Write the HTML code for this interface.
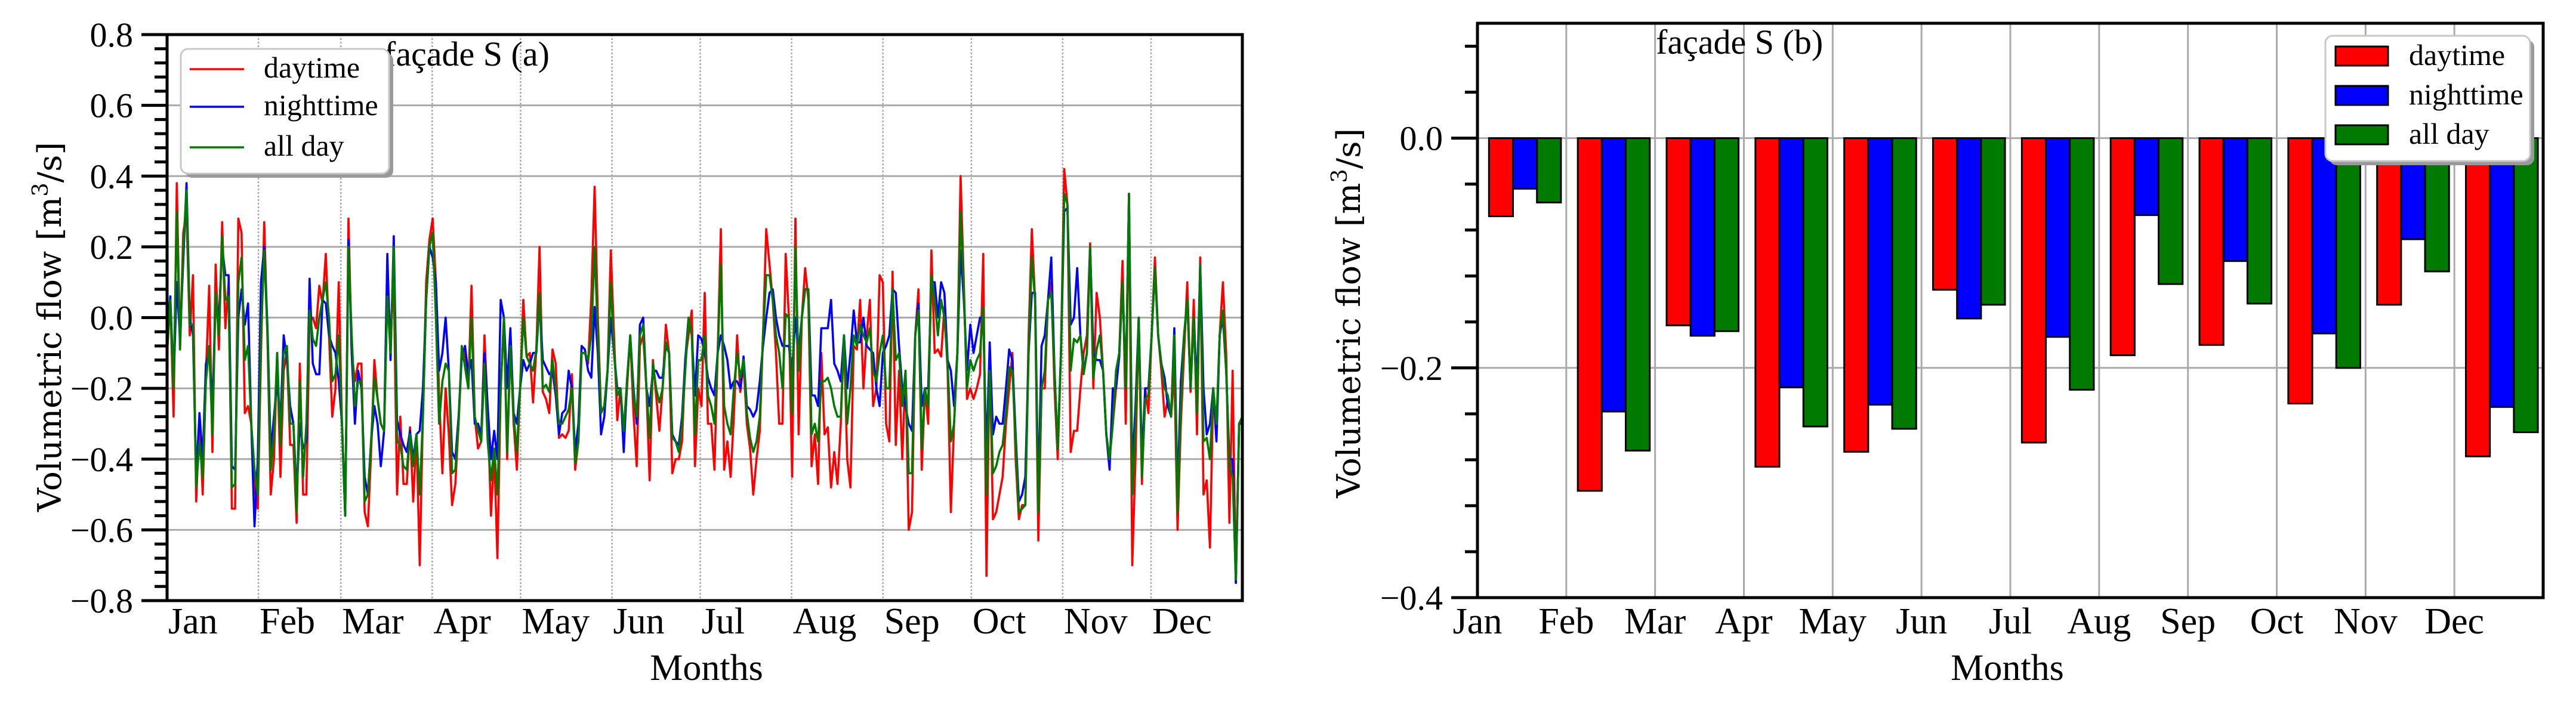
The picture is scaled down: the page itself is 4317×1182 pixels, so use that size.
<!DOCTYPE html>
<html><head><meta charset="utf-8"><style>
html,body{margin:0;padding:0;background:#fff;}
svg{display:block;font-family:"Liberation Serif",serif;}
</style></head><body>
<svg id="fig" width="4317" height="1182" viewBox="0 0 4317 1182" xmlns="http://www.w3.org/2000/svg">
<rect x="0" y="0" width="4317" height="1182" fill="#fff"/>
<g id="chartA"></g>
<g id="chartB"></g>
</svg>
<script>
// ---------- Chart A data (daily volumetric flow) ----------
const monthNames = ["Jan","Feb","Mar","Apr","May","Jun","Jul","Aug","Sep","Oct","Nov","Dec"];
const monthStartDays = [0,31,59,90,120,151,181,212,243,273,304,334];
const yTicksA = [0.8,0.6,0.4,0.2,0.0,-0.2,-0.4,-0.6,-0.8];
const dayDaytime = [
-0.1,0.05,-0.28,0.38,-0.09,0.24,0.3,-0.05,0.12,-0.52,-0.28,-0.5,-0.16,0.09,-0.38,0.15,-0.09,0.27,-0.03,0.1,-0.54,-0.54,0.28,0.24,-0.27,-0.25,-0.3,-0.48,-0.54,-0.1,0.27,-0.06,-0.5,-0.4,-0.1,-0.45,-0.15,-0.1,-0.36,-0.36,-0.58,-0.13,-0.5,-0.5,0.0,0.0,-0.03,0.09,0.04,0.18,-0.05,-0.28,-0.2,0.1,-0.3,-0.56,0.28,-0.1,-0.18,-0.13,-0.13,-0.55,-0.59,-0.38,-0.12,-0.23,-0.3,-0.32,0.1,-0.05,0.1,-0.5,-0.28,-0.47,-0.47,-0.31,-0.52,-0.33,-0.7,-0.27,0.1,0.22,0.28,0.1,-0.22,-0.44,-0.2,-0.33,-0.53,-0.47,-0.3,-0.1,-0.1,-0.2,0.09,-0.28,-0.37,-0.35,-0.05,-0.26,-0.56,-0.38,-0.68,-0.2,
0.0,-0.4,-0.08,-0.3,-0.43,-0.2,0.05,-0.11,-0.1,-0.24,-0.09,0.2,-0.21,-0.23,-0.27,-0.09,-0.13,-0.34,-0.33,-0.34,-0.32,-0.16,-0.43,-0.35,-0.1,-0.1,-0.13,0.06,0.37,0.0,-0.27,-0.25,-0.15,0.19,-0.05,-0.29,-0.2,-0.35,-0.2,-0.05,-0.27,-0.42,-0.08,-0.05,-0.2,-0.46,-0.12,-0.22,-0.32,-0.2,-0.02,-0.1,-0.44,-0.4,-0.4,-0.35,-0.12,-0.05,0.02,-0.42,-0.2,-0.25,0.07,-0.3,-0.3,-0.43,-0.1,0.25,-0.43,-0.35,-0.45,-0.28,-0.05,-0.21,-0.13,-0.3,-0.37,-0.5,-0.4,-0.32,-0.05,0.25,0.15,0.05,-0.1,-0.3,-0.3,0.18,0.0,-0.45,0.28,-0.33,0.0,0.14,0.05,-0.42,-0.33,-0.47,-0.1,-0.33,-0.31,-0.48,-0.38,-0.47,-0.3,-0.05,-0.4,-0.48,-0.08,-0.09,0.05,-0.2,
-0.05,0.05,-0.25,-0.2,0.12,0.1,-0.3,-0.35,0.13,-0.36,-0.15,-0.4,-0.15,-0.6,-0.55,-0.05,0.08,-0.43,-0.2,-0.3,0.19,-0.1,-0.09,-0.11,0.03,-0.15,-0.55,-0.3,-0.1,0.4,0.1,-0.23,-0.2,-0.23,-0.2,-0.16,0.18,-0.73,-0.1,-0.57,-0.55,-0.5,-0.45,-0.3,-0.2,-0.1,-0.4,-0.57,-0.53,-0.53,-0.05,0.25,0.05,-0.63,-0.2,-0.2,0.05,0.1,-0.2,-0.4,-0.1,0.42,0.32,-0.38,-0.32,-0.32,-0.2,-0.1,-0.05,0.21,-0.2,0.07,0.0,-0.15,-0.33,-0.4,-0.3,-0.2,-0.1,0.16,-0.3,0.35,-0.7,-0.4,0.0,-0.47,-0.2,-0.27,-0.05,0.17,-0.05,-0.15,-0.28,-0.23,-0.28,-0.15,-0.6,-0.3,-0.1,0.1,-0.21,0.05,-0.33,0.17,-0.5,-0.46,-0.65,-0.2,-0.33,-0.05,0.1,-0.1,-0.58,-0.15,-0.75,-0.3,-0.28];
const dayNighttime = [
-0.05,0.06,-0.18,0.1,-0.06,0.16,0.38,0.0,-0.05,-0.45,-0.27,-0.4,-0.13,-0.1,-0.25,0.05,0.0,0.2,0.12,0.12,-0.42,-0.43,0.0,0.08,-0.02,0.04,-0.3,-0.59,-0.4,0.1,0.2,-0.03,-0.38,-0.28,-0.18,-0.3,-0.05,-0.12,-0.25,-0.3,-0.5,-0.3,-0.37,-0.35,0.11,-0.13,-0.16,-0.16,0.05,0.04,-0.05,-0.08,-0.1,-0.18,-0.3,-0.56,0.22,-0.1,-0.3,-0.15,-0.2,-0.45,-0.5,-0.35,-0.25,-0.3,-0.42,-0.32,0.18,-0.12,0.23,-0.29,-0.33,-0.36,-0.38,-0.32,-0.4,-0.33,-0.32,-0.2,0.05,0.2,0.17,0.1,-0.15,-0.1,0.0,-0.15,-0.38,-0.4,-0.28,-0.11,-0.08,-0.16,-0.12,-0.3,-0.3,-0.33,-0.1,-0.25,-0.4,-0.32,-0.4,0.05,
0.0,-0.2,-0.03,-0.27,-0.3,-0.2,-0.12,-0.15,-0.13,-0.1,-0.1,0.05,-0.12,-0.14,-0.16,-0.15,-0.22,-0.33,-0.27,-0.26,-0.15,-0.2,-0.38,-0.3,-0.08,-0.09,-0.15,-0.17,0.03,-0.1,-0.33,-0.28,-0.15,0.0,-0.1,-0.2,-0.2,-0.38,-0.18,-0.05,-0.2,-0.3,-0.02,0.0,-0.2,-0.25,-0.15,-0.15,-0.17,-0.17,-0.08,-0.1,-0.33,-0.35,-0.36,-0.28,-0.12,0.0,-0.05,-0.22,-0.05,-0.06,-0.1,-0.17,-0.2,-0.22,-0.1,-0.05,-0.08,-0.12,-0.2,-0.18,-0.18,-0.2,-0.11,-0.25,-0.26,-0.28,-0.26,-0.18,-0.08,0.0,0.07,0.08,0.0,-0.05,-0.08,-0.08,-0.08,-0.15,0.0,-0.1,0.0,0.08,0.08,-0.22,-0.22,-0.25,-0.03,-0.03,-0.03,0.05,-0.13,-0.15,-0.18,-0.05,-0.2,-0.1,0.02,-0.07,-0.07,0.0,
-0.08,-0.09,-0.1,-0.2,-0.25,-0.1,-0.08,-0.05,0.08,0.07,-0.08,-0.2,-0.25,-0.3,-0.32,-0.05,0.04,-0.25,-0.2,-0.2,0.1,0.1,0.0,0.1,0.07,-0.12,-0.15,-0.25,-0.1,0.19,0.05,-0.15,-0.02,-0.1,-0.05,0.0,0.0,-0.4,-0.07,-0.33,-0.28,-0.3,-0.3,-0.2,-0.09,-0.12,-0.33,-0.52,-0.5,-0.45,-0.1,0.07,0.07,-0.5,-0.08,-0.05,0.05,0.17,-0.15,-0.37,-0.1,0.3,0.31,-0.02,0.0,0.14,-0.05,-0.15,-0.1,0.2,-0.1,-0.12,-0.12,-0.15,-0.33,-0.43,-0.2,-0.2,-0.11,0.1,-0.2,0.35,-0.43,-0.25,0.0,-0.4,-0.2,-0.2,-0.05,0.14,-0.05,-0.13,-0.17,-0.25,-0.28,-0.03,-0.5,-0.18,-0.05,0.05,-0.2,0.0,-0.2,0.15,-0.2,-0.33,-0.3,-0.2,-0.35,-0.05,0.0,-0.15,-0.4,-0.4,-0.75,-0.3,-0.3];
const dayAllDay = [
-0.1,0.05,-0.2,0.3,-0.09,0.2,0.36,-0.02,-0.02,-0.48,-0.35,-0.45,-0.18,-0.08,-0.33,0.07,-0.05,0.23,0.05,0.06,-0.48,-0.47,0.1,0.17,-0.12,-0.08,-0.3,-0.43,-0.5,-0.05,0.19,-0.05,-0.43,-0.33,-0.1,-0.36,-0.1,-0.08,-0.3,-0.3,-0.55,-0.18,-0.45,-0.3,0.02,-0.06,-0.08,0.0,0.05,0.1,0.0,-0.18,-0.16,-0.05,-0.3,-0.56,0.2,-0.05,-0.25,-0.18,-0.18,-0.52,-0.5,-0.35,-0.17,-0.23,-0.3,-0.32,0.06,-0.1,0.2,-0.35,-0.36,-0.42,-0.43,-0.33,-0.42,-0.33,-0.5,-0.28,0.05,0.2,0.24,0.0,-0.3,-0.18,-0.13,-0.15,-0.44,-0.43,-0.3,-0.08,-0.14,-0.2,0.0,-0.28,-0.32,-0.35,-0.13,-0.35,-0.46,-0.37,-0.5,-0.2,
0.0,-0.38,-0.08,-0.28,-0.38,-0.2,0.0,-0.11,-0.13,-0.15,-0.09,0.07,-0.2,-0.19,-0.21,-0.12,-0.2,-0.3,-0.3,-0.28,-0.26,-0.2,-0.41,-0.35,-0.1,-0.1,-0.12,-0.05,0.2,-0.05,-0.27,-0.25,-0.15,0.1,-0.1,-0.22,-0.2,-0.32,-0.18,-0.05,-0.22,-0.28,-0.05,-0.02,-0.2,-0.34,-0.13,-0.2,-0.24,-0.2,-0.07,-0.1,-0.34,-0.35,-0.38,-0.3,-0.15,0.0,-0.05,-0.33,-0.12,-0.12,-0.05,-0.22,-0.25,-0.3,-0.1,0.15,-0.25,-0.3,-0.33,-0.2,-0.1,-0.17,-0.12,-0.27,-0.34,-0.38,-0.35,-0.28,-0.05,0.12,0.12,0.05,-0.05,-0.1,-0.2,0.01,0.0,-0.27,0.2,-0.15,0.0,0.08,0.08,-0.33,-0.3,-0.35,-0.18,-0.18,-0.17,-0.2,-0.25,-0.28,-0.28,-0.05,-0.3,-0.2,-0.05,-0.08,-0.02,-0.05,
-0.07,-0.03,-0.15,-0.18,-0.1,-0.05,-0.2,-0.2,0.08,-0.12,-0.1,-0.25,-0.15,-0.44,-0.44,-0.05,0.02,-0.37,-0.2,-0.25,0.12,0.05,-0.05,0.05,0.0,-0.13,-0.35,-0.3,-0.1,0.3,0.08,-0.2,-0.12,-0.15,-0.12,-0.1,0.03,-0.5,-0.15,-0.44,-0.42,-0.38,-0.36,-0.27,-0.14,-0.15,-0.35,-0.55,-0.54,-0.53,-0.1,0.17,0.05,-0.55,-0.2,-0.15,0.05,0.07,-0.15,-0.37,-0.1,0.35,0.32,-0.15,-0.06,-0.07,-0.05,-0.16,-0.1,0.2,-0.17,-0.09,-0.05,-0.15,-0.33,-0.4,-0.3,-0.15,-0.1,0.1,-0.2,0.35,-0.5,-0.3,0.0,-0.45,-0.23,-0.22,-0.05,0.14,-0.05,-0.13,-0.2,-0.22,-0.28,-0.05,-0.55,-0.25,-0.05,0.05,-0.2,0.0,-0.27,0.15,-0.35,-0.34,-0.4,-0.2,-0.3,-0.05,0.02,-0.15,-0.42,-0.45,-0.74,-0.3,-0.28];

// ---------- Chart B data (monthly mean) ----------
const barDaytime   = [-0.068,-0.307,-0.163,-0.286,-0.273,-0.132,-0.265,-0.189,-0.180,-0.231,-0.145,-0.277];
const barNighttime = [-0.044,-0.238,-0.172,-0.217,-0.232,-0.157,-0.173,-0.067,-0.107,-0.170,-0.088,-0.234];
const barAllDay    = [-0.056,-0.272,-0.168,-0.251,-0.253,-0.145,-0.219,-0.127,-0.144,-0.200,-0.116,-0.256];
const yTicksB = [0.0,-0.2,-0.4];

const NS = "http://www.w3.org/2000/svg";
function mk(tag, attrs, parent){ const e=document.createElementNS(NS,tag); for(const k in attrs) e.setAttribute(k,attrs[k]); if(parent) parent.appendChild(e); return e; }
function fmt(v){ const s=Math.abs(v).toFixed(1); return (v<0?"\u2212":"")+s; }

// ================= Chart A =================
(function(){
  const g=document.getElementById('chartA');
  const L=280,R=2082,T=58,B=1007;
  const yMin=-0.8,yMax=0.8;
  const y=v=>B-(v-yMin)/(yMax-yMin)*(B-T);
  const x=d=>L+d/365*(R-L);
  yTicksA.forEach(v=>{ if(v>yMin && v<yMax){ const l=mk('line',{x1:L,x2:R,y1:y(v),y2:y(v),stroke:'#aaa','stroke-width':3},g);
      }});
  monthStartDays.forEach((d,i)=>{ if(i>0){ const l=mk('line',{x1:x(d),x2:x(d),y1:T,y2:B,stroke:'#aaa','stroke-width':2.5,'stroke-dasharray':'3,3'},g);
      }});
  const series=[[dayDaytime,'#ff0000','daytime-line'],[dayNighttime,'#0000ff','nighttime-line'],[dayAllDay,'#007a00','allday-line']];
  series.forEach(([arr,col,name])=>{
    const n=arr.length;
    const pts=arr.map((v,i)=>x(i*365/(n-1)).toFixed(1)+','+y(v).toFixed(1)).join(' ');
    const p=mk('polyline',{points:pts,fill:'none',stroke:col,'stroke-width':3.6,'stroke-linejoin':'round'},g);
     
  });
  const fr=mk('rect',{x:L,y:T,width:R-L,height:B-T,fill:'none',stroke:'#000','stroke-width':5},g);
   
  for(let k=0;k<=40;k++){ const v=yMin+k*0.04; const major=(k%5===0);
    mk('line',{x1:L-(major?43:21),x2:L,y1:y(v),y2:y(v),stroke:'#000','stroke-width':5},g); }
  yTicksA.forEach(v=>{ const t=mk('text',{x:223,y:y(v)+20,'text-anchor':'end','font-size':58},g); t.textContent=fmt(v);
      });
  monthNames.forEach((m,i)=>{ const t=mk('text',{x:x(monthStartDays[i])+2,y:1062,'font-size':62},g); t.textContent=m;
      });
  const xt=mk('text',{x:1184,y:1140,'text-anchor':'middle','font-size':62},g); xt.textContent='Months';
   
  const yt=mk('text',{x:0,y:0,'text-anchor':'middle','font-size':54,'font-family':'DejaVu Serif, serif',textLength:620,lengthAdjust:'spacingAndGlyphs',transform:'translate(102,548) rotate(-90)'},g);
  yt.innerHTML='Volumetric flow [m<tspan font-size="36" dy="-22">3</tspan><tspan dy="22">/s]</tspan>';
   
  const ti=mk('text',{x:644,y:110,'font-size':58},g); ti.textContent='façade S (a)';
   
  const lg=mk('g',{},g);  
  mk('rect',{x:310,y:89,width:349,height:209,rx:12,fill:'#999'},lg);
  mk('rect',{x:303,y:82,width:349,height:209,rx:12,fill:'#fff',stroke:'#c8c8c8','stroke-width':3},lg);
  [['daytime','#ff0000',116],['nighttime','#0000ff',179],['all day','#007a00',247]].forEach(([lab,col,yy])=>{
    const e=mk('g',{},lg);  
    mk('line',{x1:318,x2:409,y1:yy,y2:yy,stroke:col,'stroke-width':3.6},e);
    const t=mk('text',{x:442,y:yy+14,'font-size':50},e); t.textContent=lab;
  });
})();

// ================= Chart B =================
(function(){
  const g=document.getElementById('chartB');
  const L=2476,R=4262,T=39,B=1002;
  const yMin=-0.4,yMax=0.1;
  const y=v=>B-(v-yMin)/(yMax-yMin)*(B-T);
  const x=u=>L+u/12*(R-L);
  yTicksB.forEach(v=>{ if(v>yMin){ const l=mk('line',{x1:L,x2:R,y1:y(v),y2:y(v),stroke:'#aaa','stroke-width':3},g);
      }});
  for(let i=1;i<12;i++){ const l=mk('line',{x1:x(i),x2:x(i),y1:T,y2:B,stroke:'#aaa','stroke-width':3},g);
      }
  const series=[[barDaytime,'#ff0000','bar-daytime'],[barNighttime,'#0000ff','bar-nighttime'],[barAllDay,'#007a00','bar-allday']];
  const w=0.27, off=0.13;
  series.forEach(([arr,col,name],s)=>{
    arr.forEach((v,i)=>{
      const x0=x(i+off+s*w), x1=x(i+off+(s+1)*w);
      const r=mk('rect',{x:x0,y:y(0),width:x1-x0,height:y(v)-y(0),fill:col,stroke:'#000','stroke-width':3},g);
       
    });
  });
  const fr=mk('rect',{x:L,y:T,width:R-L,height:B-T,fill:'none',stroke:'#000','stroke-width':5},g);
   
  for(let k=0;k<=12;k++){ const v=yMin+k*0.04; if(v>yMax+1e-9) break; const major=(Math.abs(Math.round(v*100)%20)<1e-6);
    mk('line',{x1:L-(major?44:21),x2:L,y1:y(v),y2:y(v),stroke:'#000','stroke-width':5},g); }
  yTicksB.forEach(v=>{ const t=mk('text',{x:2418,y:y(v)+20,'text-anchor':'end','font-size':58},g); t.textContent=fmt(v);
      });
  monthNames.forEach((m,i)=>{ const t=mk('text',{x:x(i),y:1062,'text-anchor':'middle','font-size':62},g); t.textContent=m;
      });
  const xt=mk('text',{x:3364,y:1140,'text-anchor':'middle','font-size':62},g); xt.textContent='Months';
   
  const yt=mk('text',{x:0,y:0,'text-anchor':'middle','font-size':54,'font-family':'DejaVu Serif, serif',textLength:620,lengthAdjust:'spacingAndGlyphs',transform:'translate(2279,525) rotate(-90)'},g);
  yt.innerHTML='Volumetric flow [m<tspan font-size="36" dy="-22">3</tspan><tspan dy="22">/s]</tspan>';
   
  const ti=mk('text',{x:2775,y:90,'font-size':58},g); ti.textContent='façade S (b)';
   
  const lg=mk('g',{},g);  
  mk('rect',{x:3904,y:67,width:343,height:210,rx:12,fill:'#999'},lg);
  mk('rect',{x:3897,y:60,width:343,height:210,rx:12,fill:'#fff',stroke:'#c8c8c8','stroke-width':3},lg);
  [['daytime','#ff0000',94],['nighttime','#0000ff',160],['all day','#007a00',226]].forEach(([lab,col,yy])=>{
    const e=mk('g',{},lg);  
    mk('rect',{x:3914,y:yy-16,width:88,height:32,fill:col,stroke:'#000','stroke-width':3},e);
    const t=mk('text',{x:4037,y:yy+15,'font-size':50},e); t.textContent=lab;
  });
})();
</script>
</body></html>
